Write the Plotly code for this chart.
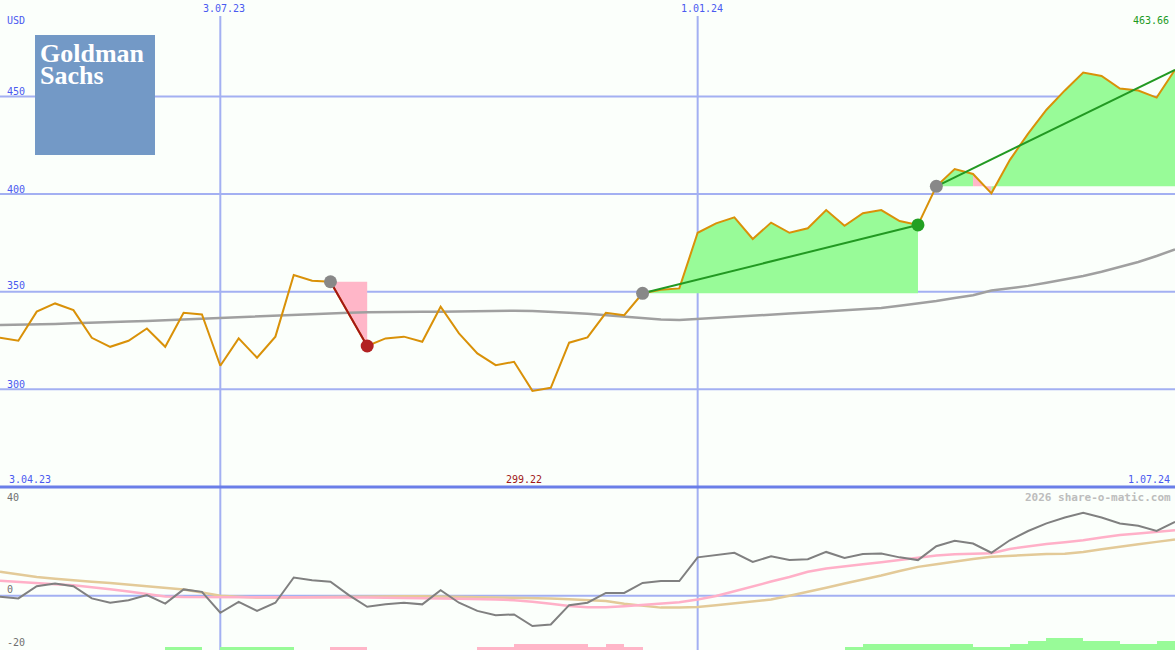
import pandas as pd
import plotly.graph_objects as go

# ---------------- data ----------------
start_date = "2023-04-10"
n_weeks = 65
dates = pd.date_range(start_date, periods=n_weeks, freq="7D")

price = [326.5, 324.9, 339.8, 344.0, 340.6, 326.4, 321.8, 324.9, 331.2, 321.8,
         339.2, 338.4, 312.1, 326.1, 316.2, 327.0, 358.6, 355.6, 355.1, 338.5,
         322.2, 326.1, 327.0, 324.4, 342.3, 328.7, 318.4, 312.4, 314.1, 299.22,
         300.8, 323.9, 326.6, 339.2, 338.0, 349.2, 351.0, 351.7, 380.2, 385.0,
         388.1, 377.0, 385.4, 380.2, 382.5, 391.8, 383.8, 390.2, 391.8, 386.2,
         384.2, 404.0, 412.8, 410.3, 400.4, 417.4, 431.0, 443.2, 453.1, 462.2,
         460.5, 454.1, 453.0, 449.4, 463.66]

ma_line = [332.9, 333.0, 333.2, 333.5, 333.8, 334.0, 334.4, 334.7, 335.0, 335.4,
           335.8, 336.2, 336.6, 337.0, 337.4, 337.8, 338.3, 338.7, 339.0, 339.3,
           339.5, 339.7, 339.8, 339.8, 339.8, 340.0, 340.2, 340.3, 340.3, 340.1,
           339.8, 339.3, 338.7, 338.0, 337.2, 336.3, 335.8, 335.5, 336.0, 336.7,
           337.3, 337.8, 338.3, 338.8, 339.4, 339.9, 340.4, 341.0, 341.7, 342.8,
           344.0, 345.3, 346.8, 348.2, 350.6, 351.7, 353.0, 354.6, 356.3, 358.1,
           360.2, 362.6, 365.2, 368.3, 371.7]

osc_gray = [-0.4, -1.0, 3.5, 4.5, 3.5, -1.0, -2.6, -1.7, 0.2, -2.9,
            2.3, 1.4, -6.3, -2.3, -5.6, -2.6, 6.7, 5.7, 5.1, 0.2,
            -4.1, -3.2, -2.6, -3.2, 2.0, -2.6, -5.6, -7.2, -6.9, -11.2,
            -10.6, -3.5, -2.6, 1.0, 1.0, 4.7, 5.4, 5.4, 14.1, 14.9,
            15.8, 12.4, 14.5, 13.1, 13.4, 16.1, 13.9, 15.3, 15.5, 14.1,
            13.1, 18.2, 20.2, 19.2, 15.8, 20.4, 23.8, 26.6, 28.8, 30.5,
            28.8, 26.6, 25.7, 23.8, 27.2]

osc_pink = [5.5, 5.0, 4.5, 4.2, 3.8, 3.2, 2.4, 1.5, 0.7, -0.3,
            -0.5, -0.5, -0.5, -0.5, -0.5, -0.5, -0.5, -0.5, -0.6, -0.6,
            -0.7, -0.8, -0.8, -0.9, -1.0, -1.1, -1.2, -1.4, -1.7, -2.2,
            -3.0, -3.8, -4.3, -4.3, -3.9, -3.4, -3.0, -2.4, -1.4, -0.1,
            1.6, 3.5, 5.2, 6.9, 8.8, 10.0, 10.9, 11.6, 12.3, 13.1,
            13.9, 14.8, 15.2, 15.4, 15.6, 17.2, 18.2, 19.0, 19.7, 20.4,
            21.4, 22.3, 22.9, 23.4, 24.1]

osc_tan = [8.8, 7.8, 6.9, 6.2, 5.6, 5.1, 4.7, 4.1, 3.6, 3.0,
           2.3, 1.2, 0.0, -0.4, -0.7, -0.7, -0.6, -0.5, -0.4, -0.4,
           -0.3, -0.2, -0.2, -0.2, -0.3, -0.5, -0.6, -0.7, -0.8, -0.9,
           -1.0, -1.3, -1.6, -2.0, -3.0, -3.8, -4.4, -4.4, -4.2, -3.5,
           -2.8, -2.1, -1.4, 0.0, 1.4, 2.9, 4.5, 5.9, 7.4, 9.1,
           10.6, 11.6, 12.6, 13.5, 14.3, 14.7, 15.1, 15.3, 15.4, 16.1,
           17.1, 18.1, 18.9, 19.8, 20.7]

# weekly histogram (one value per week interval), + green, - pink, height above -20
hist = [0, 0, 0, 0, 0, 0, 0, 0, 0, 1.1,
        1.1, 0, 1.1, 1.1, 1.1, 1.1, 0, 0, -1.1, -1.1,
        0, 0, 0, 0, 0, 0, -1.1, -1.1, -2.2, -2.2,
        -2.2, -2.2, -1.1, -2.2, -1.1, 0, 0, 0, 0, 0,
        0, 0, 0, 0, 0, 0, 1.1, 2.2, 2.2, 2.2,
        2.2, 2.2, 2.2, 1.1, 1.1, 2.2, 3.3, 4.4, 4.4, 3.3,
        3.3, 2.2, 2.2, 3.3]

trade_entry = [18, 35, 51]
trade_exit = [20, 50, 64]
trade_closed = [True, True, False]

price_ticks = [300, 350, 400, 450]
osc_ticks = [40, 0, -20]
date_ticks = ["2023-07-03", "2024-01-01"]
date_tick_labels = ["3.07.23", "1.01.24"]

# ---------------- style ----------------
W, H = 1175, 650
BG = "#FBFFFB"
GRID = "#A3B0F2"
LBL = "#4A5AF0"
GREEN_FILL = "#98FB98"
PINK_FILL = "#FFB6C8"
PRICE_C = "#D99108"
SPLIT = 163 / H


def py(y):
    return 1 - y / H


def px(x):
    return x / W


fig = go.Figure()

# ---- trade fills ----
def add_fill(i0, i1, base, color):
    xs = list(dates[i0:i1 + 1]) + [dates[i1], dates[i0]]
    ys = list(price[i0:i1 + 1]) + [base, base]
    fig.add_trace(go.Scatter(x=xs, y=ys, fill="toself", fillcolor=color,
                             line=dict(width=0), mode="lines", hoverinfo="skip",
                             showlegend=False))

for e, x_, closed in zip(trade_entry, trade_exit, trade_closed):
    base = price[e]
    if not closed:
        seg_start = e
        for k in range(e, x_):
            up_now = price[k + 1] >= base
            up_start = price[seg_start + 1] >= base
            if up_now != up_start:
                add_fill(seg_start, k, base, GREEN_FILL if up_start else PINK_FILL)
                seg_start = k
        add_fill(seg_start, x_, base, GREEN_FILL if price[x_] >= base else PINK_FILL)
    else:
        add_fill(e, x_, base, GREEN_FILL if price[x_] >= base else PINK_FILL)

# ---- moving average and price ----
fig.add_trace(go.Scatter(x=dates, y=ma_line, mode="lines",
                         line=dict(color="#A0A0A0", width=2.5), showlegend=False))
fig.add_trace(go.Scatter(x=dates, y=price, mode="lines",
                         line=dict(color=PRICE_C, width=2), showlegend=False))

# ---- trade lines and markers ----
for e, x_, closed in zip(trade_entry, trade_exit, trade_closed):
    win = price[x_] >= price[e]
    lc = "#229922" if win else "#A31515"
    fig.add_trace(go.Scatter(x=[dates[e], dates[x_]], y=[price[e], price[x_]],
                             mode="lines", line=dict(color=lc, width=2),
                             showlegend=False))
    fig.add_trace(go.Scatter(x=[dates[e]], y=[price[e]], mode="markers",
                             marker=dict(color="#888888", size=13), showlegend=False))
    if closed:
        mc = "#22A022" if win else "#B22222"
        fig.add_trace(go.Scatter(x=[dates[x_]], y=[price[x_]], mode="markers",
                                 marker=dict(color=mc, size=13), showlegend=False))

# ---- lower panel ----
bx, by, bc = [], [], []
for k, v in enumerate(hist):
    if v != 0:
        bx.append(dates[k] + pd.Timedelta(days=3.5))
        by.append(abs(v))
        bc.append(GREEN_FILL if v > 0 else PINK_FILL)
fig.add_trace(go.Bar(x=bx, y=by, base=-20, marker=dict(color=bc, line=dict(width=0)),
                     width=7 * 86400000, yaxis="y2", showlegend=False))
fig.add_trace(go.Scatter(x=dates, y=osc_tan, mode="lines", yaxis="y2",
                         line=dict(color="#E3CA98", width=2.5), showlegend=False))
fig.add_trace(go.Scatter(x=dates, y=osc_pink, mode="lines", yaxis="y2",
                         line=dict(color="#FFB0C8", width=2.5), showlegend=False))
fig.add_trace(go.Scatter(x=dates, y=osc_gray, mode="lines", yaxis="y2",
                         line=dict(color="#808080", width=2), showlegend=False))

# ---------------- shapes ----------------
shapes = []
for v in price_ticks:
    shapes.append(dict(type="line", xref="paper", yref="y", x0=0, x1=1, y0=v, y1=v,
                       line=dict(color=GRID, width=2), layer="below"))
shapes.append(dict(type="line", xref="paper", yref="y2", x0=0, x1=1, y0=0, y1=0,
                   line=dict(color=GRID, width=2), layer="below"))
for d in date_ticks:
    shapes.append(dict(type="line", xref="x", yref="paper", x0=d, x1=d, y0=0,
                       y1=py(16), line=dict(color=GRID, width=2), layer="below"))
shapes.append(dict(type="line", xref="paper", yref="paper", x0=0, x1=1,
                   y0=SPLIT, y1=SPLIT, line=dict(color="#6A7EE8", width=3),
                   layer="above"))
# logo box
shapes.append(dict(type="rect", xref="paper", yref="paper", x0=px(35), x1=px(155),
                   y0=py(155), y1=py(35), fillcolor="#7399C6", line=dict(width=0),
                   layer="above"))

# ---------------- annotations ----------------
MONO = "DejaVu Sans Mono"
ann = []


def text(x, y, t, color, size=10, anchor="left", family=MONO):
    ann.append(dict(x=x, y=py(y), xref="paper", yref="paper", text=t, showarrow=False,
                    xanchor=anchor, yanchor="middle",
                    font=dict(family=family, size=size, color=color)))


text(px(5), 20, "USD", LBL)
for v, yy in zip(price_ticks, [384, 286, 189, 91]):
    text(px(5), yy, str(v), LBL)
for d, lab in zip(date_ticks, date_tick_labels):
    ann.append(dict(x=d, y=py(9), xref="x", yref="paper", text=lab, showarrow=False,
                    xanchor="center", yanchor="middle", xshift=4,
                    font=dict(family=MONO, size=10, color=LBL)))
text(px(1171), 21, f"{price[-1]:.2f}", "#1E9A1E", anchor="right")
text(px(7), 479, "3.04.23", LBL)
text(px(1172), 479, "1.07.24", LBL, anchor="right")
lo = min(price)
ann.append(dict(x=dates[price.index(lo)], y=py(479), xref="x", yref="paper",
                text=f"{lo:.2f}", showarrow=False, xanchor="center", yanchor="middle",
                xshift=-8, font=dict(family=MONO, size=10, color="#A01818")))
for v, yy in zip(osc_ticks, [497, 589, 642]):
    text(px(5), yy, str(v), "#707070")
text(px(1173), 497, "<b>2026 share-o-matic.com</b>", "#BDBDBD", size=11, anchor="right")

# logo text
ann.append(dict(x=px(39), y=py(53), xref="paper", yref="paper", text="<b>Goldman</b>",
                showarrow=False, xanchor="left", yanchor="middle", height=21,
                valign="middle", borderpad=0,
                font=dict(family="Liberation Serif", size=26, color="white")))
ann.append(dict(x=px(39), y=py(75), xref="paper", yref="paper", text="<b>Sachs</b>",
                showarrow=False, xanchor="left", yanchor="middle", height=21,
                valign="middle", borderpad=0,
                font=dict(family="Liberation Serif", size=26, color="white")))

fig.update_layout(
    width=W, height=H,
    margin=dict(l=0, r=0, t=0, b=0),
    paper_bgcolor=BG, plot_bgcolor=BG,
    showlegend=False, barmode="overlay", bargap=0,
    xaxis=dict(range=[dates[0], dates[-1]], showgrid=False, zeroline=False,
               showticklabels=False, ticks="", showline=False, anchor="y2"),
    yaxis=dict(domain=[SPLIT, 1], range=[250, 499.4], showgrid=False, zeroline=False,
               showticklabels=False, ticks="", showline=False),
    yaxis2=dict(domain=[0, SPLIT], range=[-20, 40], showgrid=False, zeroline=False,
                showticklabels=False, ticks="", showline=False),
    shapes=shapes, annotations=ann,
)

fig.write_html("out.html", config={"displayModeBar": False},
               post_script="document.body.style.margin='0';document.body.style.overflow='hidden';")
